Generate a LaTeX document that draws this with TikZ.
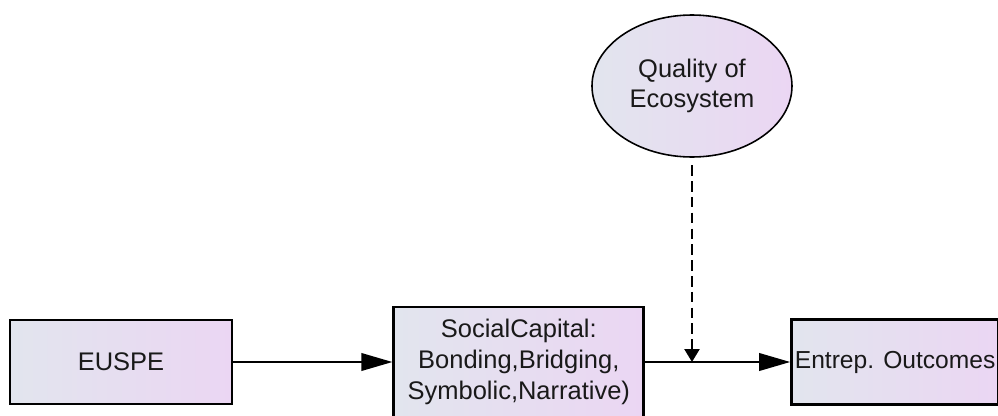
\documentclass[tikz,border=0pt]{standalone}
\usepackage{fontspec}
\setmainfont{Liberation Sans}
\usetikzlibrary{positioning,arrows.meta,shapes.geometric}
\definecolor{boxleft}{RGB}{226,229,238}
\definecolor{boxright}{RGB}{235,214,243}
\tikzset{
  var/.style={rectangle,draw=black,line width=1.6pt,left color=boxleft,right color=boxright,
    align=center,inner sep=2pt,text=black!90},
  latent/.style={ellipse,draw=black,line width=0.9pt,left color=boxleft,right color=boxright,
    align=center,inner sep=1pt,text=black!90,minimum width=4cm,minimum height=2.84cm},
  path/.style={-{Triangle[length=6.2mm,width=3.5mm]},line width=1.2pt},
  moder/.style={-{Triangle[length=2.6mm,width=3mm]},line width=1.4pt,dash pattern=on 6pt off 3pt},
}

\begin{document}
\begin{tikzpicture}[font=\fontsize{14.5}{17.5}\selectfont]
  \clip (0,0) rectangle (19.96,8.3);
  \node[var,minimum width=4.44cm,minimum height=1.68cm] (euspe) at (2.42,1.06) {EUSPE};
  \node[var,minimum width=5cm,minimum height=2.2cm,right=3.18cm of euspe] (soc) {SocialCapital:\\Bonding,Bridging,\\Symbolic,Narrative)};
  \node[var,minimum width=4.14cm,minimum height=1.7cm,inner sep=0pt,right=2.9cm of soc,
    font=\fontsize{14}{17}\selectfont] (outc) {Entrep. Outcomes};
  \node[latent] (eco) at (13.84,6.58) {Quality of\\Ecosystem};
  \coordinate (meet) at (eco.south |- soc.east);
  \draw[path] (euspe.east) -- (soc.west);
  \draw[path] (soc.east) -- (outc.west);
  \draw[moder,shorten <=1.5mm] (eco.south) -- (meet);
\end{tikzpicture}
\end{document}
